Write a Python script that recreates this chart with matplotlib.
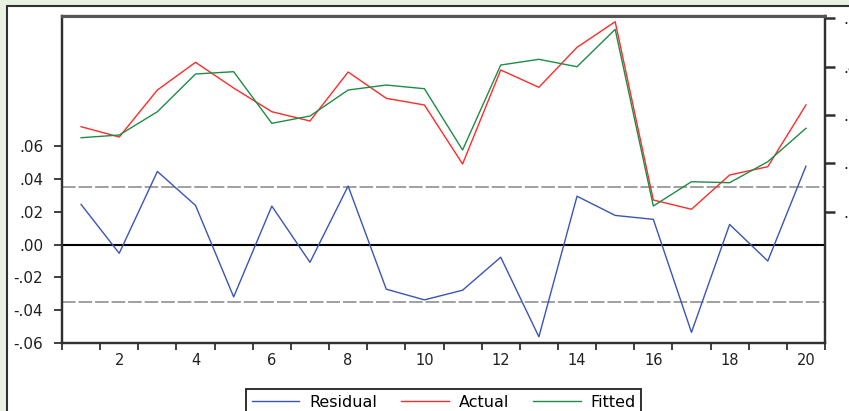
import matplotlib
matplotlib.use("Agg")
import matplotlib.pyplot as plt
from matplotlib.patches import Rectangle
from matplotlib.ticker import FuncFormatter

obs = list(range(1, 21))
residual = [0.0245, -0.0053, 0.0446, 0.0239, -0.0319, 0.0235, -0.0108, 0.0357, -0.0272, -0.0337,
            -0.0278, -0.0077, -0.0562, 0.0295, 0.0178, 0.0154, -0.0535, 0.0123, -0.0100, 0.0478]
actual = [0.2758, 0.2545, 0.3517, 0.4090, 0.3558, 0.3068, 0.2876, 0.3889, 0.3345, 0.3207,
          0.1987, 0.3931, 0.3573, 0.4400, 0.4930, 0.1242, 0.1050, 0.1759, 0.1931, 0.3207]
fitted = [0.2530, 0.2586, 0.3068, 0.3848, 0.3896, 0.2828, 0.2979, 0.3517, 0.3620, 0.3544,
          0.2276, 0.4034, 0.4152, 0.3999, 0.4772, 0.1118, 0.1620, 0.1600, 0.2034, 0.2725]
se_band = 0.035
left_ticks = [-0.06, -0.04, -0.02, 0.00, 0.02, 0.04, 0.06]
right_ticks = [0.1, 0.2, 0.3, 0.4, 0.5]
x_labels = [2, 4, 6, 8, 10, 12, 14, 16, 18, 20]

W, H = 849, 411
fig = plt.figure(figsize=(W / 100, H / 100), dpi=100)
fig.patch.set_facecolor('#e9f1e3')
fig.patches.append(Rectangle((7 / W, -0.1), 1.2, 1 - 6 / H + 0.1, transform=fig.transFigure,
                             facecolor='white', edgecolor='#303030', linewidth=1.5, zorder=-5))

ax = fig.add_axes([62 / W, 1 - 343 / H, (825 - 62) / W, (343 - 16) / H])
ax.set_facecolor('none')
ax2 = ax.twinx()

blue, red, green = '#3a55b4', '#ff2a2a', '#1e8c46'
ax.axhline(0, color='black', linewidth=1.5, zorder=2)
ax.axhline(se_band, color='#a0a0a0', linewidth=1.4, linestyle=(0, (7, 1.5)), zorder=2)
ax.axhline(-se_band, color='#a0a0a0', linewidth=1.4, linestyle=(0, (7, 1.5)), zorder=2)
l_res, = ax.plot(obs, residual, color=blue, linewidth=1.0, zorder=3)
l_act, = ax2.plot(obs, actual, color=red, linewidth=1.0)
l_fit, = ax2.plot(obs, fitted, color=green, linewidth=1.0)

ax.set_xlim(0.5, 20.5)
ax.set_ylim(-0.0595, 0.1394)
ax2.set_ylim(-0.1716, 0.5048)

ax.set_yticks(left_ticks)
ax.yaxis.set_major_formatter(FuncFormatter(lambda v, p: f"{v:.2f}".replace("0.", ".")))
ax2.set_yticks(right_ticks)
ax2.yaxis.set_major_formatter(FuncFormatter(lambda v, p: f"{v:.1f}".replace("0.", ".")))

ax.set_xticks([i + 0.5 for i in range(0, 21)])
ax.set_xticklabels([])
ax.set_xticks(x_labels, minor=True)
ax.set_xticklabels([str(v) for v in x_labels], minor=True)
ax.tick_params(axis='x', which='major', length=5, width=1.3, color='#303030', direction='out')
ax.tick_params(axis='x', which='minor', length=0, pad=7, labelsize=10.5, labelcolor='#202020')
ax.tick_params(axis='y', length=6, width=1.3, color='#303030', pad=7.5, labelsize=11, labelcolor='#202020')
ax2.tick_params(axis='y', length=7.5, width=1.8, color='#303030', pad=6, labelsize=11, labelcolor='#202020')

for a in (ax, ax2):
    for s in a.spines.values():
        s.set_color('#303030')
        s.set_linewidth(1.6)
ax2.spines['top'].set_color('#555555')
ax2.spines['top'].set_linewidth(2.2)

leg = fig.legend([l_res, l_act, l_fit], ['Residual', 'Actual', 'Fitted'],
                 loc='upper center', bbox_to_anchor=(443.5 / W, 1 - 389 / H), ncol=3,
                 frameon=True, fancybox=False, edgecolor='#202020', framealpha=1,
                 fontsize=11.5, handlelength=3.0, handletextpad=0.6, columnspacing=1.5,
                 borderpad=0.35, borderaxespad=0)
leg.get_frame().set_linewidth(1.3)

fig.savefig('out.png', dpi=100, facecolor=fig.get_facecolor())
